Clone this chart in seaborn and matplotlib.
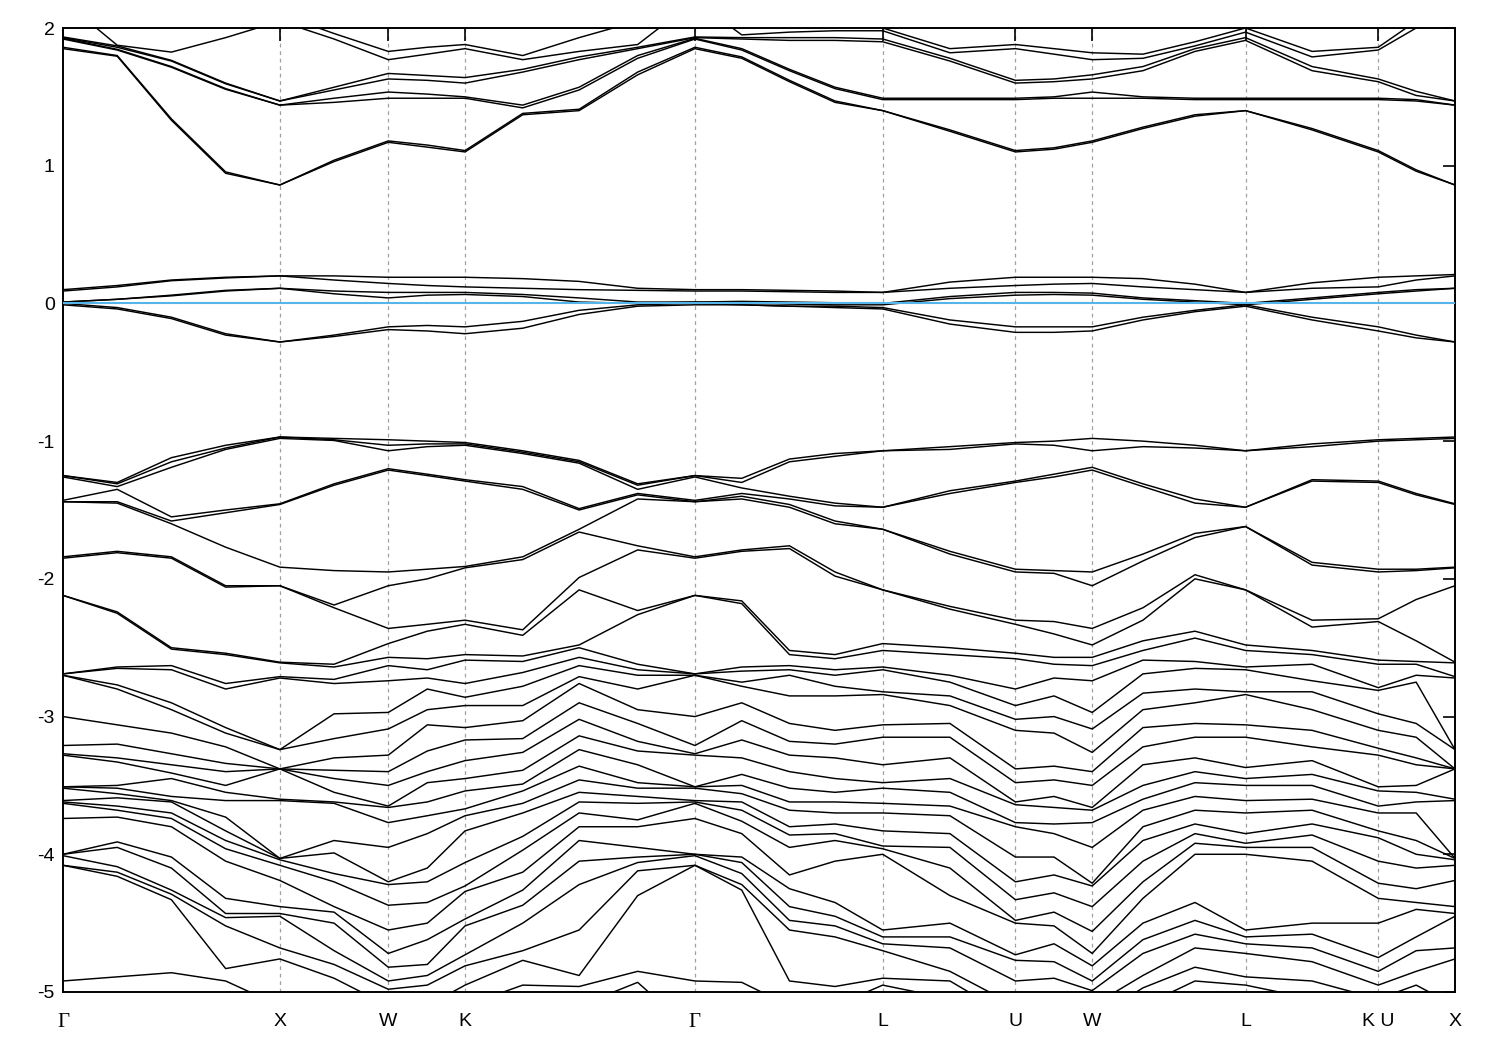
import numpy as np
import pandas as pd
import matplotlib
matplotlib.use("Agg")
import matplotlib.pyplot as plt
import seaborn as sns

# k-path positions of the sampled columns (units of 2pi/a along the path)
kpts = [0.0, 0.25, 0.5, 0.75, 1.0, 1.25, 1.5, 1.68, 1.854, 2.12, 2.38, 2.65,
        2.914, 3.13, 3.35, 3.56, 3.78, 4.09, 4.392, 4.57, 4.746, 4.98, 5.22,
        5.453, 5.76, 6.065, 6.24, 6.419]

sym_pos = [0.0, 1.0, 1.5, 1.854, 2.914, 3.78, 4.392, 4.746, 5.453, 6.065, 6.419]
sym_lab = ["Γ", "X", "W", "K", "Γ", "L", "U", "W", "L", "K U", "X"]

# energies (eV) read at each column: conduction | near E_F | valence
c00 = [2.3, 2.2, 1.935, 1.93, 1.925, 1.92, 1.86, 1.85] + [0.10, 0.09, 0.01, 0.01, 0.00, -0.01] + \
      [-1.25, -1.25, -1.26, -1.43, -1.44, -1.44, -1.84, -1.85, -2.12, -2.12, -2.69, -2.69, -2.70, -2.70, -3.00, -3.21,
       -3.27, -3.28, -3.51, -3.51, -3.52, -3.61, -3.62, -3.63, -3.74, -4.00, -4.00, -4.01, -4.08, -4.08, -4.92, -5.3]
c01 = [2.4, 1.875, 1.87, 1.86, 1.845, 1.84, 1.80, 1.795] + [0.13, 0.12, 0.03, 0.03, -0.03, -0.04] + \
      [-1.30, -1.31, -1.33, -1.35, -1.44, -1.45, -1.80, -1.81, -2.24, -2.25, -2.64, -2.65, -2.77, -2.80, -3.06, -3.20,
       -3.30, -3.33, -3.50, -3.52, -3.56, -3.59, -3.65, -3.68, -3.73, -3.91, -3.95, -4.09, -4.13, -4.16, -4.89, -5.3]
c02 = [2.3, 1.825, 1.765, 1.76, 1.72, 1.715, 1.34, 1.33] + [0.17, 0.165, 0.06, 0.055, -0.10, -0.11] + \
      [-1.12, -1.15, -1.19, -1.55, -1.58, -1.60, -1.84, -1.85, -2.50, -2.51, -2.63, -2.66, -2.90, -2.95, -3.12, -3.27,
       -3.35, -3.41, -3.45, -3.58, -3.61, -3.62, -3.70, -3.74, -3.80, -4.02, -4.10, -4.26, -4.29, -4.33, -4.86, -5.02]
c03 = [2.2, 1.93, 1.60, 1.595, 1.56, 1.555, 0.955, 0.945] + [0.19, 0.185, 0.095, 0.09, -0.22, -0.23] + \
      [-1.03, -1.05, -1.06, -1.50, -1.52, -1.77, -2.05, -2.06, -2.54, -2.55, -2.76, -2.80, -3.08, -3.12, -3.22, -3.34,
       -3.40, -3.50, -3.55, -3.61, -3.73, -3.83, -3.90, -3.96, -4.05, -4.32, -4.43, -4.46, -4.52, -4.83, -4.92, -5.1]
c04 = [2.1, 2.05, 1.47, 1.47, 1.44, 1.44, 0.86, 0.86] + [0.20, 0.20, 0.11, 0.11, -0.28, -0.28] + \
      [-0.97, -0.97, -0.98, -1.455, -1.46, -1.915, -2.05, -2.05, -2.605, -2.61, -2.71, -2.72, -3.24, -3.24, -3.38, -3.38,
       -3.38, -3.38, -3.60, -3.61, -4.03, -4.03, -4.04, -4.08, -4.19, -4.38, -4.43, -4.45, -4.68, -4.76, -5.1, -5.2]
c05 = [1.96, 1.92, 1.57, 1.55, 1.49, 1.46, 1.04, 1.03] + [0.20, 0.17, 0.09, 0.07, -0.23, -0.24] + \
      [-0.98, -0.99, -0.995, -1.31, -1.32, -1.94, -2.19, -2.21, -2.62, -2.64, -2.73, -2.76, -2.98, -3.16, -3.30, -3.39,
       -3.45, -3.55, -3.62, -3.63, -3.90, -3.99, -4.14, -4.20, -4.38, -4.42, -4.50, -4.70, -4.80, -4.90, -5.0, -5.2]
c06 = [1.83, 1.77, 1.67, 1.63, 1.535, 1.49, 1.18, 1.17] + [0.19, 0.145, 0.08, 0.04, -0.17, -0.19] + \
      [-0.99, -1.03, -1.07, -1.20, -1.21, -1.95, -2.05, -2.36, -2.47, -2.57, -2.63, -2.74, -2.97, -3.09, -3.28, -3.40,
       -3.50, -3.65, -3.66, -3.77, -3.95, -4.20, -4.22, -4.37, -4.55, -4.72, -4.82, -4.92, -4.98, -5.1, -5.2, -5.3]
c07 = [1.86, 1.81, 1.655, 1.62, 1.52, 1.49, 1.15, 1.135] + [0.19, 0.13, 0.08, 0.06, -0.16, -0.20] + \
      [-1.00, -1.02, -1.04, -1.24, -1.25, -1.93, -2.00, -2.33, -2.38, -2.58, -2.66, -2.72, -2.80, -2.95, -3.06, -3.25,
       -3.40, -3.48, -3.62, -3.72, -3.85, -4.10, -4.20, -4.35, -4.50, -4.62, -4.80, -4.88, -4.95, -5.1, -5.2, -5.3]
c08 = [1.88, 1.85, 1.64, 1.60, 1.50, 1.49, 1.11, 1.10] + [0.19, 0.12, 0.08, 0.065, -0.17, -0.22] + \
      [-1.01, -1.02, -1.03, -1.28, -1.29, -1.91, -1.92, -2.30, -2.33, -2.55, -2.59, -2.76, -2.86, -2.92, -3.08, -3.17,
       -3.32, -3.45, -3.54, -3.67, -3.72, -3.83, -4.06, -4.23, -4.27, -4.47, -4.52, -4.73, -4.81, -4.95, -5.1, -5.2]
c09 = [1.80, 1.77, 1.70, 1.68, 1.44, 1.42, 1.38, 1.37] + [0.18, 0.11, 0.065, 0.05, -0.13, -0.18] + \
      [-1.07, -1.08, -1.09, -1.33, -1.35, -1.84, -1.86, -2.37, -2.41, -2.56, -2.60, -2.68, -2.78, -2.92, -3.03, -3.16,
       -3.26, -3.39, -3.49, -3.54, -3.63, -3.70, -3.87, -3.97, -4.13, -4.26, -4.37, -4.50, -4.70, -4.77, -4.95, -5.1]
c10 = [1.93, 1.83, 1.79, 1.77, 1.57, 1.55, 1.41, 1.40] + [0.16, 0.10, 0.04, 0.01, -0.05, -0.08] + \
      [-1.14, -1.15, -1.16, -1.49, -1.50, -1.64, -1.66, -1.99, -2.08, -2.48, -2.50, -2.57, -2.63, -2.71, -2.76, -2.90,
       -3.02, -3.14, -3.24, -3.36, -3.46, -3.55, -3.62, -3.70, -3.80, -3.90, -4.05, -4.22, -4.55, -4.88, -4.96, -5.1]
c11 = [2.05, 1.88, 1.86, 1.85, 1.80, 1.78, 1.68, 1.66] + [0.11, 0.095, 0.01, 0.0, -0.01, -0.02] + \
      [-1.31, -1.32, -1.35, -1.38, -1.39, -1.42, -1.76, -1.79, -2.23, -2.26, -2.62, -2.66, -2.70, -2.80, -2.95, -3.05,
       -3.18, -3.25, -3.35, -3.48, -3.52, -3.58, -3.63, -3.75, -3.80, -3.95, -4.02, -4.06, -4.12, -4.30, -4.85, -4.93]
c12 = [2.3, 2.2, 1.935, 1.93, 1.925, 1.92, 1.86, 1.85] + [0.10, 0.09, 0.01, 0.01, 0.00, -0.01] + \
      [-1.25, -1.25, -1.26, -1.43, -1.44, -1.44, -1.84, -1.85, -2.12, -2.12, -2.69, -2.69, -2.70, -2.70, -3.00, -3.21,
       -3.27, -3.28, -3.51, -3.51, -3.52, -3.61, -3.62, -3.63, -3.74, -4.00, -4.00, -4.01, -4.08, -4.08, -4.92, -5.3]
c13 = [2.2, 1.95, 1.93, 1.92, 1.85, 1.84, 1.79, 1.78] + [0.10, 0.09, 0.015, 0.0, -0.01, -0.01] + \
      [-1.27, -1.30, -1.34, -1.38, -1.40, -1.42, -1.79, -1.80, -2.16, -2.18, -2.64, -2.67, -2.75, -2.78, -2.90, -3.03,
       -3.17, -3.30, -3.42, -3.50, -3.56, -3.62, -3.68, -3.76, -3.85, -4.02, -4.06, -4.14, -4.22, -4.26, -4.93, -5.2]
c14 = [2.15, 1.97, 1.93, 1.91, 1.70, 1.69, 1.62, 1.61] + [0.095, 0.085, 0.01, -0.005, -0.02, -0.02] + \
      [-1.13, -1.15, -1.40, -1.42, -1.46, -1.48, -1.76, -1.78, -2.52, -2.55, -2.63, -2.66, -2.70, -2.85, -3.05, -3.18,
       -3.28, -3.40, -3.52, -3.62, -3.68, -3.80, -3.86, -3.95, -4.15, -4.25, -4.38, -4.48, -4.55, -4.92, -5.1, -5.2]
c15 = [2.1, 1.98, 1.93, 1.91, 1.57, 1.56, 1.47, 1.46] + [0.09, 0.08, 0.005, -0.01, -0.02, -0.03] + \
      [-1.09, -1.11, -1.45, -1.47, -1.58, -1.60, -1.95, -1.98, -2.55, -2.58, -2.66, -2.70, -2.78, -2.85, -3.10, -3.20,
       -3.30, -3.45, -3.55, -3.62, -3.70, -3.78, -3.85, -3.90, -4.05, -4.35, -4.45, -4.52, -4.60, -4.96, -5.1, -5.2]
c16 = [2.0, 1.98, 1.92, 1.90, 1.49, 1.48, 1.40, 1.40] + [0.08, 0.08, 0.0, -0.01, -0.03, -0.04] + \
      [-1.07, -1.07, -1.48, -1.48, -1.64, -1.64, -2.08, -2.08, -2.47, -2.52, -2.64, -2.66, -2.82, -2.84, -3.06, -3.15,
       -3.35, -3.48, -3.52, -3.63, -3.70, -3.83, -3.94, -3.96, -4.00, -4.55, -4.60, -4.65, -4.70, -4.90, -4.95, -5.1]
c17 = [1.85, 1.82, 1.78, 1.76, 1.49, 1.48, 1.26, 1.25] + [0.155, 0.11, 0.05, 0.035, -0.12, -0.15] + \
      [-1.04, -1.06, -1.36, -1.38, -1.80, -1.82, -2.20, -2.22, -2.50, -2.55, -2.70, -2.75, -2.85, -2.92, -3.05, -3.15,
       -3.30, -3.45, -3.55, -3.65, -3.72, -3.85, -3.95, -4.10, -4.30, -4.50, -4.60, -4.68, -4.85, -4.92, -5.05, -5.15]
c18 = [1.88, 1.85, 1.62, 1.60, 1.49, 1.48, 1.11, 1.10] + [0.19, 0.13, 0.08, 0.06, -0.17, -0.21] + \
      [-1.01, -1.02, -1.29, -1.30, -1.93, -1.95, -2.30, -2.33, -2.54, -2.58, -2.80, -2.92, -3.02, -3.10, -3.38, -3.48,
       -3.62, -3.64, -3.77, -3.80, -4.02, -4.20, -4.33, -4.48, -4.50, -4.73, -4.77, -4.92, -5.1, -5.2, -5.3, -5.4]
c19 = [1.85, 1.81, 1.63, 1.61, 1.50, 1.49, 1.13, 1.12] + [0.19, 0.14, 0.08, 0.065, -0.17, -0.21] + \
      [-1.00, -1.03, -1.24, -1.26, -1.94, -1.96, -2.31, -2.40, -2.57, -2.62, -2.72, -2.85, -3.00, -3.12, -3.36, -3.46,
       -3.58, -3.66, -3.78, -3.85, -4.02, -4.15, -4.28, -4.42, -4.52, -4.65, -4.78, -4.90, -5.05, -5.15, -5.3, -5.4]
c20 = [1.82, 1.77, 1.66, 1.63, 1.535, 1.49, 1.18, 1.17] + [0.19, 0.145, 0.075, 0.06, -0.17, -0.20] + \
      [-0.98, -1.07, -1.19, -1.21, -1.95, -2.05, -2.36, -2.48, -2.57, -2.63, -2.74, -2.97, -3.09, -3.26, -3.40, -3.50,
       -3.66, -3.68, -3.77, -3.95, -4.21, -4.23, -4.38, -4.56, -4.72, -4.81, -4.92, -4.99, -5.1, -5.2, -5.3, -5.4]
c21 = [1.81, 1.78, 1.72, 1.69, 1.50, 1.49, 1.28, 1.27] + [0.18, 0.12, 0.04, 0.03, -0.10, -0.12] + \
      [-1.00, -1.04, -1.31, -1.33, -1.82, -1.87, -2.21, -2.30, -2.45, -2.52, -2.59, -2.69, -2.83, -2.95, -3.08, -3.22,
       -3.35, -3.50, -3.60, -3.68, -3.80, -3.90, -4.05, -4.20, -4.32, -4.50, -4.62, -4.72, -4.88, -4.97, -5.1, -5.2]
c22 = [1.90, 1.87, 1.85, 1.83, 1.49, 1.48, 1.37, 1.36] + [0.14, 0.10, 0.02, 0.01, -0.05, -0.06] + \
      [-1.03, -1.05, -1.42, -1.45, -1.67, -1.70, -1.97, -2.00, -2.38, -2.43, -2.60, -2.65, -2.80, -2.90, -3.05, -3.15,
       -3.30, -3.40, -3.48, -3.58, -3.68, -3.78, -3.85, -3.92, -4.00, -4.35, -4.48, -4.58, -4.68, -4.82, -4.92, -5.05]
c23 = [2.0, 1.97, 1.93, 1.91, 1.49, 1.48, 1.40, 1.40] + [0.08, 0.08, 0.0, -0.01, -0.01, -0.02] + \
      [-1.07, -1.07, -1.48, -1.48, -1.62, -1.62, -2.08, -2.08, -2.48, -2.52, -2.64, -2.66, -2.82, -2.84, -3.06, -3.15,
       -3.37, -3.45, -3.50, -3.61, -3.70, -3.85, -3.92, -3.95, -4.00, -4.55, -4.60, -4.65, -4.72, -4.89, -4.95, -5.1]
c24 = [1.83, 1.79, 1.72, 1.69, 1.49, 1.48, 1.27, 1.26] + [0.15, 0.11, 0.04, 0.03, -0.10, -0.12] + \
      [-1.02, -1.04, -1.28, -1.29, -1.88, -1.90, -2.30, -2.35, -2.52, -2.55, -2.62, -2.74, -2.82, -2.95, -3.10, -3.22,
       -3.32, -3.42, -3.50, -3.60, -3.68, -3.78, -3.86, -3.95, -4.05, -4.50, -4.58, -4.68, -4.78, -4.92, -5.05, -5.15]
c25 = [1.86, 1.84, 1.63, 1.61, 1.49, 1.48, 1.11, 1.10] + [0.19, 0.12, 0.08, 0.07, -0.17, -0.20] + \
      [-0.99, -1.00, -1.29, -1.30, -1.93, -1.95, -2.29, -2.31, -2.59, -2.62, -2.79, -2.81, -2.98, -3.10, -3.23, -3.28,
       -3.51, -3.54, -3.65, -3.70, -3.83, -3.88, -4.05, -4.21, -4.32, -4.50, -4.75, -4.85, -4.95, -5.05, -5.15, -5.25]
c26 = [2.05, 2.0, 1.54, 1.51, 1.48, 1.47, 0.97, 0.96] + [0.20, 0.17, 0.10, 0.09, -0.23, -0.25] + \
      [-0.98, -0.99, -1.38, -1.39, -1.93, -1.94, -2.15, -2.45, -2.60, -2.62, -2.70, -2.75, -3.05, -3.15, -3.30, -3.35,
       -3.50, -3.55, -3.62, -3.70, -3.90, -4.00, -4.10, -4.25, -4.35, -4.40, -4.60, -4.70, -4.85, -4.95, -5.1, -5.2]
c27 = [2.2, 2.15, 1.47, 1.47, 1.44, 1.44, 0.86, 0.86] + [0.21, 0.20, 0.11, 0.11, -0.28, -0.28] + \
      [-0.97, -0.98, -1.455, -1.46, -1.915, -1.92, -2.05, -2.605, -2.61, -2.71, -2.72, -3.24, -3.24, -3.38, -3.38, -3.38,
       -3.38, -3.60, -3.61, -4.03, -4.03, -4.04, -4.08, -4.19, -4.38, -4.43, -4.45, -4.68, -4.76, -5.1, -5.2, -5.3]

columns = [c00, c01, c02, c03, c04, c05, c06, c07, c08, c09, c10, c11, c12, c13,
           c14, c15, c16, c17, c18, c19, c20, c21, c22, c23, c24, c25, c26, c27]

# sort each column so band n is the n-th eigenvalue from the top
E = -np.sort(-np.array(columns), axis=1)
nk, nb = E.shape
df = pd.DataFrame({
    "k": np.repeat(kpts, nb),
    "E": E.ravel(),
    "band": np.tile(np.arange(nb), nk),
})

sns.set_style("white")
plt.rcParams["font.family"] = ["Liberation Sans", "DejaVu Sans"]

fig = plt.figure(figsize=(15, 10.5), dpi=100)
ax = fig.add_axes([63 / 1500, 58 / 1050, (1455 - 63) / 1500, (992 - 28) / 1050])

for x in sym_pos[1:-1]:
    ax.axvline(x, color="#a0a0a0", lw=0.9, ls=(0, (3, 3)), zorder=0)

sns.lineplot(data=df, x="k", y="E", units="band", estimator=None, sort=False,
             color="black", linewidth=1.05, legend=False, ax=ax)
ax.axhline(0, color="#56B4E9", lw=1.5, zorder=3)

ax.set_xlim(sym_pos[0], sym_pos[-1])
ax.set_ylim(-5, 2)
ax.set_xlabel("")
ax.set_ylabel("")
ax.set_yticks(range(-5, 3))
ax.set_yticklabels([str(v) for v in range(-5, 3)], fontsize=14)
ax.set_xticks(sym_pos)
ax.set_xticklabels(sym_lab, fontsize=14)
for lab in ax.get_xticklabels():
    if lab.get_text() == "Γ":
        lab.set_fontfamily("Liberation Serif")
        lab.set_fontsize(15)
ax.tick_params(axis="both", direction="in", length=9, width=1.2,
               top=True, right=True, colors="black")
ax.tick_params(axis="x", pad=15)
ax.tick_params(axis="y", pad=6)
for s in ax.spines.values():
    s.set_color("black")
    s.set_linewidth(1.4)

fig.savefig("out.png", dpi=100)
